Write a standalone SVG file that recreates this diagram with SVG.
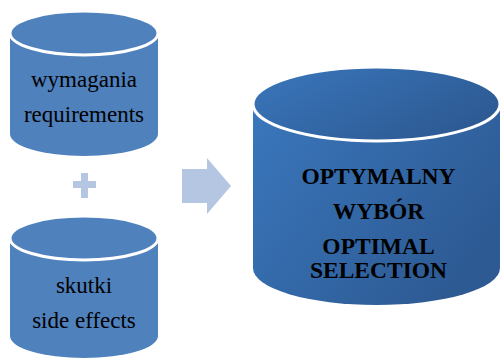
<svg xmlns="http://www.w3.org/2000/svg" width="501" height="360" viewBox="0 0 501 360">
  <defs>
    <linearGradient id="bigGrad" x1="0" y1="0" x2="1" y2="0.6">
      <stop offset="0" stop-color="#3a77bd"/>
      <stop offset="1" stop-color="#2d5a93"/>
    </linearGradient>
    <style>
      .small { fill: #4f81bd; }
      .big { fill: url(#bigGrad); }
      .rim { stroke: #ffffff; stroke-width: 3; }
      text { fill: #000; text-anchor: middle; font-family: "Liberation Serif", "Times New Roman", serif; }
      .ts { font-size: 23px; }
      .tb { font-size: 23.5px; font-weight: bold; }
      .sym { fill: #b5c6e3; }
    </style>
  </defs>

  <g id="requirements">
    <path class="small" d="M10,33 V134 A74,22 0 0 0 158,134 V33 Z"/>
    <ellipse class="small rim" cx="84" cy="33" rx="74" ry="22"/>
    <text class="ts" x="84" y="87">wymagania</text>
    <text class="ts" x="84" y="122">requirements</text>
  </g>

  <g id="plus">
    <rect class="sym" x="81" y="173" width="7" height="25"/>
    <rect class="sym" x="73" y="181" width="23" height="7"/>
  </g>

  <g id="side-effects">
    <path class="small" d="M10,238 V336 A74,22 0 0 0 158,336 V238 Z"/>
    <ellipse class="small rim" cx="84" cy="238" rx="74" ry="22"/>
    <text class="ts" x="84" y="293">skutki</text>
    <text class="ts" x="84" y="327.5">side effects</text>
  </g>

  <g id="connectors">
    <polygon class="sym" points="182,169 207,169 207,158 231,186 207,214 207,203 182,203"/>
  </g>

  <g id="optimal-selection">
    <path class="big" d="M253,104 V268 A123.5,37 0 0 0 500,268 V104 Z"/>
    <ellipse class="big rim" cx="376.5" cy="104" rx="123.5" ry="37"/>
    <text class="tb" x="378.5" y="184">OPTYMALNY</text>
    <text class="tb" x="378.5" y="219">WYBÓR</text>
    <text class="tb" x="378.5" y="254">OPTIMAL</text>
    <text class="tb" x="378.5" y="278">SELECTION</text>
  </g>
</svg>
